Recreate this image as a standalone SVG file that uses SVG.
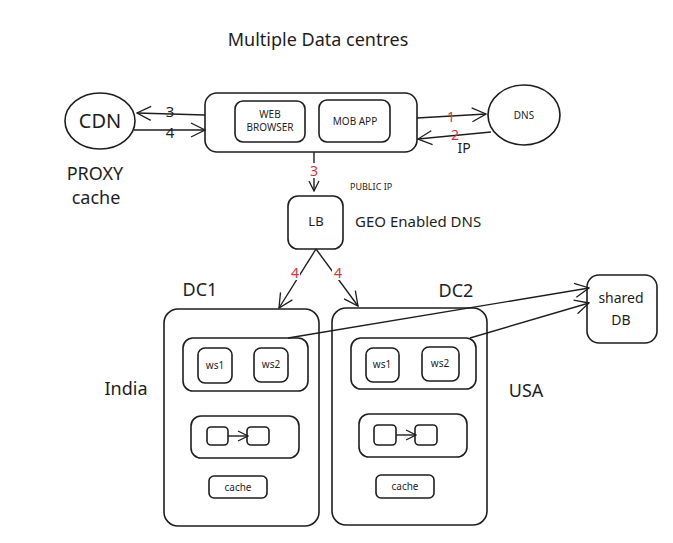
<svg xmlns="http://www.w3.org/2000/svg" width="673" height="543" viewBox="0 0 673 543">
<defs>
<marker id="arr" viewBox="0 0 12 12" refX="11" refY="6" markerWidth="12" markerHeight="12" markerUnits="userSpaceOnUse" orient="auto">
<path d="M1,1 L11,6 L1,11" fill="none" stroke="#1e1e1e" stroke-width="1.3"/>
</marker>
<marker id="arrL" viewBox="0 0 16 16" refX="15" refY="8" markerWidth="16" markerHeight="16" markerUnits="userSpaceOnUse" orient="auto">
<path d="M1,1 L15,8 L1,15" fill="none" stroke="#1e1e1e" stroke-width="1.3"/>
</marker>
</defs>
<style>
text{font-family:"Noto Sans","Open Sans","DejaVu Sans",sans-serif;fill:#1e1e1e}
.box{fill:none;stroke:#1e1e1e;stroke-width:1.6}
.ln{fill:none;stroke:#1e1e1e;stroke-width:1.4}
.c{text-anchor:middle}
.red{fill:#e03131}
.s10{font-size:10px}
.s14{font-size:14px}
.s18{font-size:18px}
</style>
<rect width="673" height="543" fill="#ffffff"/>
<text x="318" y="46" class="c s18">Multiple Data centres</text>

<g id="cdn">
<ellipse cx="100" cy="121" rx="35" ry="28" class="box"/>
<text x="100" y="128" class="c" font-size="20">CDN</text>
<text x="95" y="180" class="c s18">PROXY</text>
<text x="96" y="204" class="c s18">cache</text>
</g>

<g id="client">
<rect x="205" y="93" width="212" height="59" rx="12" class="box"/>
<rect x="235" y="101" width="70" height="41" rx="8" class="box"/>
<text x="270" y="118" class="c s10">WEB</text>
<text x="270" y="131" class="c s10">BROWSER</text>
<rect x="319" y="100" width="71" height="42" rx="8" class="box"/>
<text x="355" y="125" class="c s10">MOB APP</text>
</g>

<g id="dns">
<ellipse cx="524" cy="115" rx="36" ry="30" class="box"/>
<text x="524" y="119" class="c s10">DNS</text>
</g>

<g id="lb">
<rect x="288" y="196" width="55" height="53" rx="10" class="box"/>
<text x="316" y="226" class="c" font-size="13">LB</text>
<text x="355" y="227" font-size="15">GEO Enabled DNS</text>
<text x="350" y="190" font-size="9">PUBLIC IP</text>
</g>

<g id="dc1">
<text x="200" y="296" class="c s18">DC1</text>
<text x="126" y="395" class="c s18">India</text>
<rect x="164" y="309" width="155" height="217" rx="14" class="box"/>
<rect x="183" y="338" width="125" height="53" rx="10" class="box"/>
<rect x="198" y="348" width="34" height="35" rx="7" class="box"/>
<text x="215" y="369" class="c s10">ws1</text>
<rect x="254" y="348" width="34" height="34" rx="7" class="box"/>
<text x="271" y="368" class="c s10">ws2</text>
<rect x="191" y="416" width="108" height="42" rx="10" class="box"/>
<rect x="207" y="427" width="21" height="18" rx="4" class="box"/>
<rect x="247" y="427" width="22" height="18" rx="4" class="box"/>
<rect x="209" y="476" width="58" height="22" rx="5" class="box"/>
<text x="238" y="491" class="c s10">cache</text>
</g>

<g id="dc2">
<text x="456" y="297" class="c s18">DC2</text>
<text x="526" y="397" class="c s18">USA</text>
<rect x="332" y="308" width="155" height="217" rx="14" class="box"/>
<rect x="351" y="338" width="125" height="51" rx="10" class="box"/>
<rect x="366" y="348" width="33" height="34" rx="7" class="box"/>
<text x="382" y="368" class="c s10">ws1</text>
<rect x="422" y="347" width="37" height="34" rx="7" class="box"/>
<text x="440" y="367" class="c s10">ws2</text>
<rect x="359" y="414" width="108" height="43" rx="10" class="box"/>
<rect x="374" y="425" width="22" height="20" rx="4" class="box"/>
<rect x="415" y="425" width="22" height="20" rx="4" class="box"/>
<rect x="376" y="475" width="58" height="23" rx="5" class="box"/>
<text x="405" y="490" class="c s10">cache</text>
</g>

<g id="shareddb">
<rect x="587" y="275" width="70" height="68" rx="12" class="box"/>
<text x="621" y="303" class="c s14">shared</text>
<text x="621" y="325" class="c s14">DB</text>
</g>

<g id="connectors">
<line x1="205" y1="115" x2="137" y2="113" class="ln" marker-end="url(#arrL)"/>
<text x="170" y="117" class="c" font-size="15">3</text>
<line x1="134" y1="130" x2="205" y2="130" class="ln" marker-end="url(#arrL)"/>
<text x="170" y="138" class="c" font-size="15">4</text>
<line x1="417" y1="118" x2="486" y2="114" class="ln" marker-end="url(#arrL)"/>
<text x="451" y="122" class="c s14 red">1</text>
<line x1="491" y1="132" x2="418" y2="139" class="ln" marker-end="url(#arrL)"/>
<text x="455" y="140" class="c s14 red">2</text>
<text x="464" y="153" class="c s14">IP</text>
<line x1="314" y1="152" x2="314" y2="191" class="ln" marker-end="url(#arr)"/>
<rect x="308" y="163" width="12" height="15" fill="#ffffff"/>
<text x="314" y="176" class="c s14 red">3</text>
<line x1="316" y1="249" x2="279" y2="308" class="ln" marker-end="url(#arrL)"/>
<rect x="289" y="265" width="11" height="15" fill="#ffffff"/>
<text x="295" y="278" class="c s14 red">4</text>
<line x1="316" y1="249" x2="358" y2="306" class="ln" marker-end="url(#arrL)"/>
<rect x="332" y="265" width="11" height="15" fill="#ffffff"/>
<text x="338" y="278" class="c s14 red">4</text>
<line x1="228" y1="436" x2="248" y2="436" class="ln" marker-end="url(#arr)"/>
<line x1="396" y1="435" x2="416" y2="435" class="ln" marker-end="url(#arr)"/>
<line x1="288" y1="338" x2="589" y2="288" class="ln" marker-end="url(#arrL)"/>
<line x1="470" y1="338" x2="589" y2="303" class="ln" marker-end="url(#arrL)"/>
</g>
</svg>
